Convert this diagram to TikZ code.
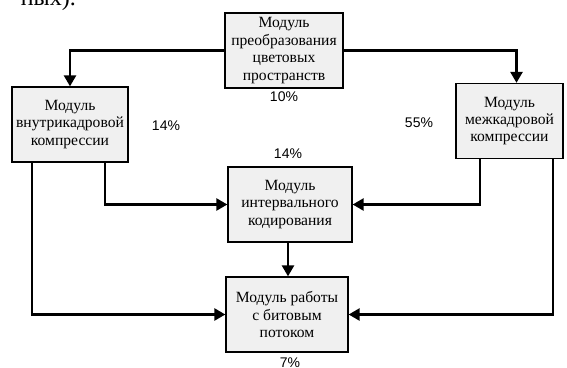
\documentclass[tikz,border=0pt]{standalone}
\usepackage{fontspec}
\setmainfont{Liberation Serif}
\newfontfamily\pctfont{Liberation Sans}
\usetikzlibrary{arrows.meta}

\begin{document}
\begin{tikzpicture}[x=1pt, y=-1pt,
    module/.style={draw, line width=1.3pt, fill=gray!12, align=center, inner sep=0pt,
        minimum height=75pt, font=\fontsize{15.6}{17.4}\selectfont},
    flow/.style={line width=2.5pt, -{Triangle[length=11pt, width=12pt]}},
    pct/.style={font=\pctfont\fontsize{14}{16}\selectfont, inner sep=0pt}]
    \useasboundingbox (0,0) rectangle (567,367);
    % text of the page, cut by the upper edge
    \node[anchor=base east, font=\fontsize{24}{26}\selectfont, inner sep=0pt] (tail) at (76,5) {ных).};
    % modules
    \node[module, minimum width=118pt] (color) at (284,50.5) {Модуль\\преобразования\\цветовых\\пространств};
    \node[module, minimum width=116pt] (intra) at (70,124.5) {Модуль\\внутрикадровой\\компрессии};
    \node[module, minimum width=107pt] (inter) at (509.5,121) {Модуль\\межкадровой\\компрессии};
    \node[module, minimum width=124pt] (interval) at (290,204.5) {Модуль\\интервального\\кодирования};
    \node[module, minimum width=122pt] (bitstream) at (287,314.5) {Модуль работы\\с битовым\\потоком};
    % shares
    \node[pct] (p10) at (284,97) {10\%};
    \node[pct] (p14a) at (166,126) {14\%};
    \node[pct] (p55) at (419,123) {55\%};
    \node[pct] (p14b) at (288,154) {14\%};
    \node[pct] (p7) at (290,363) {7\%};
    % links
    \draw[flow] (color.west) -| (intra.north);
    \draw[flow] (color.east) -| ([xshift=7pt]inter.north);
    \draw[flow] ([xshift=35pt]intra.south) |- (interval.west);
    \draw[flow] ([xshift=-38pt]intra.south) |- (bitstream.west);
    \draw[flow] ([xshift=-29.5pt]inter.south) |- (interval.east);
    \draw[flow] ([xshift=43.5pt]inter.south) |- (bitstream.east);
    \draw[flow] ([xshift=-2pt]interval.south) -- ([xshift=-2pt]interval.south |- bitstream.north);
\end{tikzpicture}
\end{document}
